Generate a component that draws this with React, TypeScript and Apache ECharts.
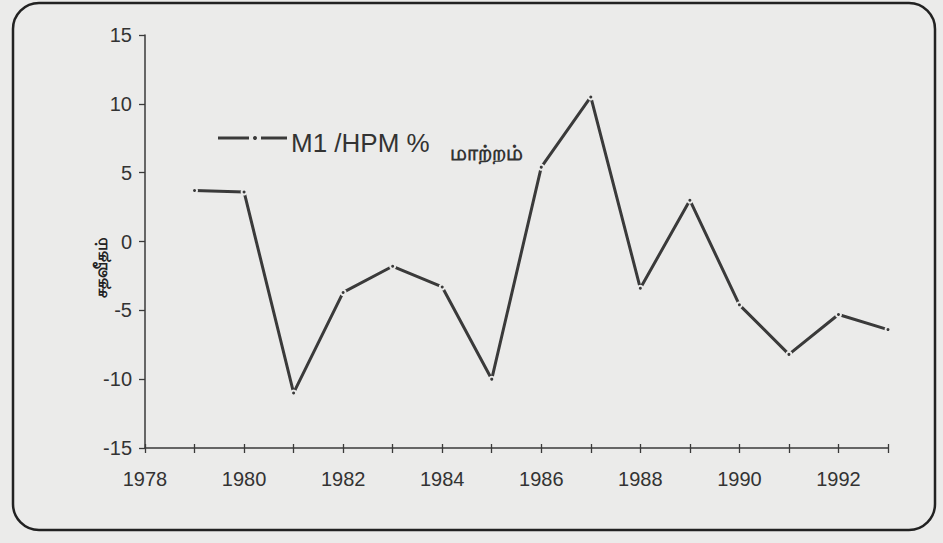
import React, { useEffect, useRef } from "react";
import * as echarts from "echarts";

const years = [1979, 1980, 1981, 1982, 1983, 1984, 1985, 1986, 1987, 1988, 1989, 1990, 1991, 1992, 1993];
const ratioChange = [3.7, 3.6, -11.0, -3.7, -1.8, -3.3, -10.0, 5.4, 10.5, -3.4, 3.0, -4.6, -8.2, -5.3, -6.4];
const seriesName = "M1 /HPM %";
const seriesNameTamil = "மாற்றம்";
const yAxisTitle = "சதவீதம்";

const BG = "#ebebea";
const INK = "#3a3a3a";

export default function App() {
  const ref = useRef<HTMLDivElement>(null);
  useEffect(() => {
    if (!ref.current) return;
    const chart = echarts.init(ref.current, null, { renderer: "svg" });
    const data = years.map((y, i) => [y, ratioChange[i]]);
    chart.setOption({
      animation: false,
      backgroundColor: BG,
      textStyle: { fontFamily: "Liberation Sans, Arial, sans-serif" },
      grid: { left: 145, right: 55, top: 35, bottom: 95 },
      xAxis: [
        {
          type: "value",
          min: 1978,
          max: 1993,
          interval: 1,
          axisLine: { show: true, onZero: false, lineStyle: { color: INK, width: 1.5 } },
          axisTick: { show: true, inside: false, length: 5, lineStyle: { color: INK, width: 1.3 } },
          splitLine: { show: false },
          axisLabel: {
            color: "#333",
            fontSize: 20,
            margin: 21,
            formatter: (v: number) => (v % 2 === 0 && v < 1993 ? String(v) : ""),
          },
        },
        {
          type: "value",
          position: "bottom",
          min: 1978,
          max: 1993,
          interval: 1,
          axisLine: { show: false, onZero: false },
          axisTick: { show: true, inside: true, length: 4, lineStyle: { color: INK, width: 1.3 } },
          axisLabel: { show: false },
          splitLine: { show: false },
        },
      ],
      yAxis: {
        type: "value",
        min: -15,
        max: 15,
        interval: 5,
        axisLine: { show: true, onZero: false, lineStyle: { color: INK, width: 1.5 } },
        axisTick: { show: true, length: 6, lineStyle: { color: INK, width: 1.3 } },
        splitLine: { show: false },
        axisLabel: { color: "#333", fontSize: 20, margin: 13 },
      },
      graphic: [
        {
          type: "rect",
          shape: { x: 13, y: 3, width: 922, height: 527, r: 26 },
          style: { fill: "none", stroke: "#222", lineWidth: 2.5 },
          silent: true,
        },
        {
          type: "text",
          x: 100,
          y: 267,
          rotation: Math.PI / 2,
          style: {
            text: yAxisTitle,
            fill: "#222",
            font: "bold 17px 'Noto Sans', sans-serif",
            align: "center",
            verticalAlign: "middle",
          },
        },
        {
          type: "line",
          shape: { x1: 218, y1: 138, x2: 249, y2: 138 },
          style: { stroke: INK, lineWidth: 3 },
        },
        {
          type: "circle",
          shape: { cx: 255, cy: 138, r: 2 },
          style: { fill: INK },
        },
        {
          type: "line",
          shape: { x1: 261, y1: 138, x2: 287, y2: 138 },
          style: { stroke: INK, lineWidth: 3 },
        },
        {
          type: "text",
          x: 291,
          y: 143,
          style: {
            text: seriesName,
            fill: "#333",
            font: "26px 'Liberation Sans', Arial, sans-serif",
            verticalAlign: "middle",
          },
        },
        {
          type: "text",
          x: 450,
          y: 152,
          style: {
            text: seriesNameTamil,
            fill: "#333",
            font: "bold 21px 'Noto Sans', sans-serif",
            verticalAlign: "middle",
          },
        },
      ],
      series: [
        {
          type: "line",
          name: seriesName,
          data,
          xAxisIndex: 0,
          symbol: "circle",
          symbolSize: 5,
          lineStyle: { color: INK, width: 3 },
          itemStyle: { color: INK, borderColor: BG, borderWidth: 2 },
        },
      ],
    });
    return () => chart.dispose();
  }, []);
  return (
    <div
      ref={ref}
      style={{ position: "fixed", left: 0, top: 0, width: 943, height: 543 }}
    />
  );
}
